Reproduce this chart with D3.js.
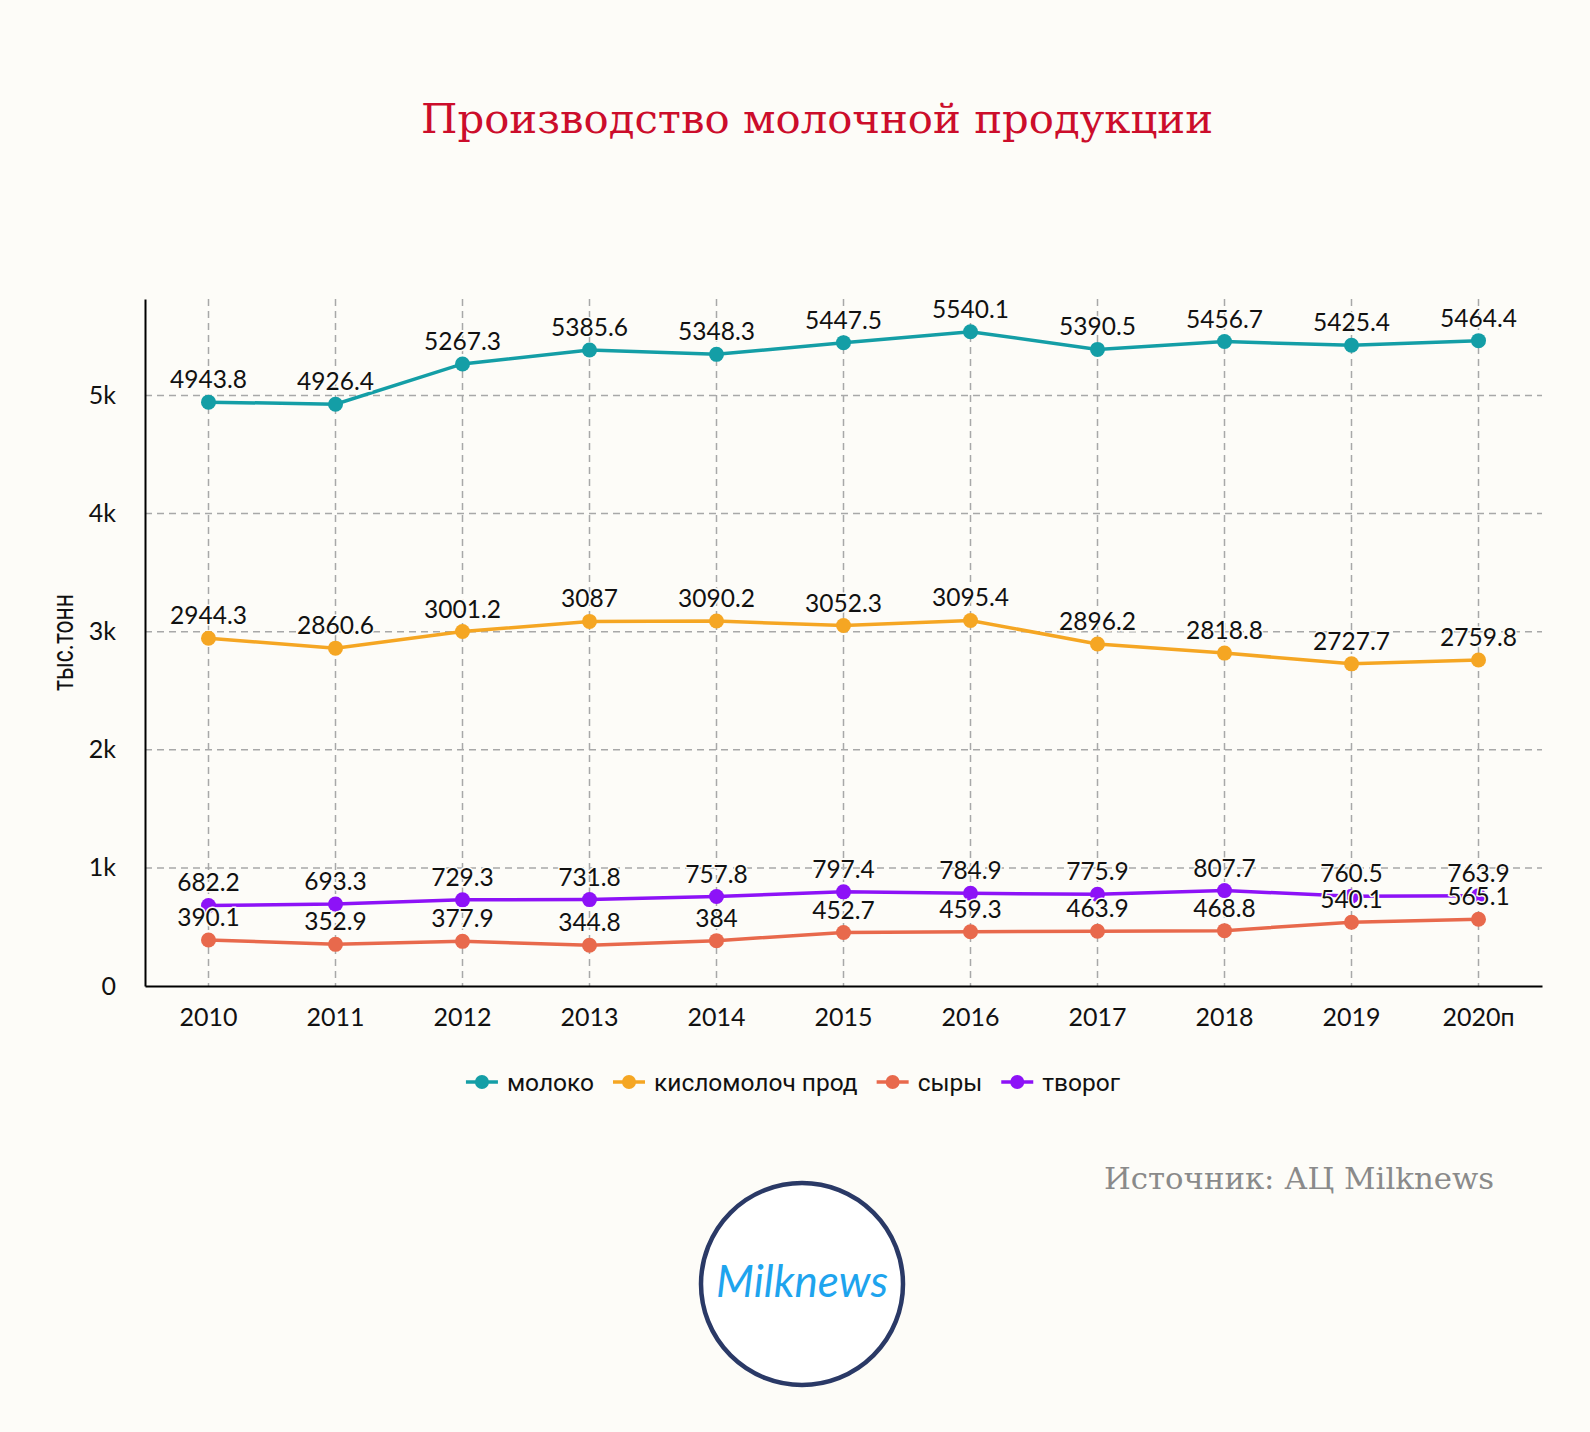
<!DOCTYPE html>
<html><head><meta charset="utf-8">
<script src="https://cdn.jsdelivr.net/npm/d3@7"></script>
<style>
html,body{margin:0;padding:0;background:#fdfcf8;}
svg{display:block;}
</style></head>
<body>
<script>
const categories = ["2010","2011","2012","2013","2014","2015","2016","2017","2018","2019","2020п"];
const seriesNames = ["молоко","кисломолоч прод","сыры","творог"];
const seriesColors = ["#149ea6","#f5a623","#e8694c","#8d12f7"];
const moloko = [4943.8,4926.4,5267.3,5385.6,5348.3,5447.5,5540.1,5390.5,5456.7,5425.4,5464.4];
const kislomoloch = [2944.3,2860.6,3001.2,3087,3090.2,3052.3,3095.4,2896.2,2818.8,2727.7,2759.8];
const syry = [390.1,352.9,377.9,344.8,384,452.7,459.3,463.9,468.8,540.1,565.1];
const tvorog = [682.2,693.3,729.3,731.8,757.8,797.4,784.9,775.9,807.7,760.5,763.9];
const yTicks = [0,1000,2000,3000,4000,5000];
const titleText = "Производство молочной продукции";
const yTitle = "тыс.тонн";
const sourceText = "Источник: АЦ Milknews";

const seriesValues = [moloko, kislomoloch, syry, tvorog];
const W = 1590, H = 1432, bg = "#fdfcf8";
const m = {left:145, right:1542, top:299, bottom:986};

const svg = d3.select("body").append("svg").attr("width",W).attr("height",H);
svg.append("rect").attr("width",W).attr("height",H).attr("fill",bg);

svg.append("text").attr("x",817).attr("y",133).attr("text-anchor","middle")
  .attr("font-family","'DejaVu Serif', 'Liberation Serif', serif").attr("font-size",41)
  .attr("fill","#cc0d2b").attr("textLength",792).attr("lengthAdjust","spacingAndGlyphs").text(titleText);

const x = d3.scaleBand().domain(categories).range([m.left,m.right]);
const maxV = d3.max(seriesValues.flat());
const y = d3.scaleLinear().domain([0, maxV*1.05]).range([m.bottom,m.top]);
const cx = d => x(d)+x.bandwidth()/2;

// grid
const g = svg.append("g");
g.selectAll(".hg").data(yTicks.filter(t=>t>0)).join("line")
  .attr("x1",m.left).attr("x2",m.right).attr("y1",d=>y(d)).attr("y2",d=>y(d))
  .attr("stroke","#a8a8a8").attr("stroke-width",1.5).attr("stroke-dasharray","7,5");
g.selectAll(".vg").data(categories).join("line")
  .attr("x1",d=>cx(d)).attr("x2",d=>cx(d)).attr("y1",m.top).attr("y2",m.bottom)
  .attr("stroke","#a8a8a8").attr("stroke-width",1.5).attr("stroke-dasharray","7,5");

// axes
const yAxis = svg.append("g").attr("transform",`translate(${m.left},0)`)
  .call(d3.axisLeft(y).tickValues(yTicks).tickFormat(d3.format("~s")).tickSize(0).tickPadding(29));
yAxis.select(".domain").attr("stroke","#000").attr("stroke-width",2);
yAxis.selectAll("text").attr("font-family","Lato, sans-serif").attr("font-size",25).attr("fill","#111");

const xAxis = svg.append("g").attr("transform",`translate(0,${m.bottom})`)
  .call(d3.axisBottom(x).tickSize(0).tickPadding(22));
xAxis.select(".domain").attr("stroke","#000").attr("stroke-width",2);
xAxis.selectAll("text").attr("font-family","Lato, sans-serif").attr("font-size",25).attr("fill","#111");

svg.append("text").attr("transform",`translate(73,${(m.top+m.bottom)/2}) rotate(-90)`)
  .attr("text-anchor","middle").attr("font-family","Roboto, sans-serif").attr("font-size",30)
  .attr("textLength",97).attr("lengthAdjust","spacingAndGlyphs")
  .attr("fill","#111").text(yTitle);

// lines
const line = d3.line().x((d,i)=>cx(categories[i])).y(d=>y(d));
seriesValues.forEach((vals,si)=>{
  svg.append("path").datum(vals).attr("d",line).attr("fill","none")
    .attr("stroke",seriesColors[si]).attr("stroke-width",3.5);
  svg.selectAll(null).data(vals).join("circle")
    .attr("cx",(d,i)=>cx(categories[i])).attr("cy",d=>y(d)).attr("r",7.5)
    .attr("fill",seriesColors[si]);
});
// labels
seriesValues.forEach((vals,si)=>{
  svg.selectAll(null).data(vals).join("text")
    .attr("x",(d,i)=>cx(categories[i])).attr("y",d=>y(d)-14)
    .attr("text-anchor","middle").attr("font-family","Lato, sans-serif").attr("font-size",24.5)
    .attr("fill","#111").attr("stroke",bg).attr("stroke-width",3).attr("paint-order","stroke")
    .text(d=>d);
});

// legend
const legend = svg.append("g");
const items = [];
let lx = 0;
const fam = "Roboto, sans-serif";
const fs = 24.5, gap = 19, txtOff = 41;
const tmp = svg.append("text").attr("font-family",fam).attr("font-size",fs);
seriesNames.forEach((n,i)=>{
  tmp.text(n);
  const w = tmp.node().getComputedTextLength();
  items.push({n, i, x:lx});
  lx += txtOff + w + gap;
});
tmp.remove();
const totalW = lx - gap;
const lx0 = W/2 - totalW/2 - 2;
const ly = 1082;
items.forEach(it=>{
  const gg = legend.append("g").attr("transform",`translate(${lx0+it.x},${ly})`);
  gg.append("line").attr("x1",0).attr("x2",32).attr("y1",0).attr("y2",0)
    .attr("stroke",seriesColors[it.i]).attr("stroke-width",3.5);
  gg.append("circle").attr("cx",16).attr("cy",0).attr("r",7).attr("fill",seriesColors[it.i]);
  gg.append("text").attr("x",txtOff).attr("y",8.5).attr("font-family",fam)
    .attr("font-size",fs).attr("fill","#111").text(it.n);
});

// source
svg.append("text").attr("x",1494).attr("y",1189).attr("text-anchor","end")
  .attr("font-family","'DejaVu Serif', serif").attr("font-size",30).attr("fill","#8a8a8a")
  .attr("textLength",390).attr("lengthAdjust","spacingAndGlyphs").text(sourceText);

// logo
const logo = svg.append("g").attr("transform","translate(802,1284)");
logo.append("circle").attr("r",101).attr("fill","#ffffff").attr("stroke","#2a3966").attr("stroke-width",4.5);
logo.append("text").attr("x",0).attr("y",13).attr("text-anchor","middle")
  .attr("font-family","Lato, sans-serif").attr("font-style","italic").attr("font-weight",400)
  .attr("font-size",44).attr("fill","#1ea4ee").attr("textLength",172).attr("lengthAdjust","spacingAndGlyphs").text("Milknews");
</script>
</body></html>
